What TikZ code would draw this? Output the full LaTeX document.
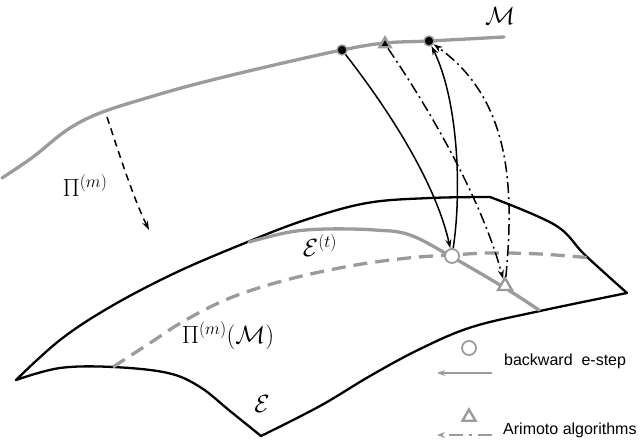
\documentclass[tikz,border=0pt]{standalone}
\usepackage{fontspec}
\setsansfont{Liberation Sans}
\usetikzlibrary{arrows.meta,shapes.geometric}
\definecolor{cgray}{RGB}{155,155,155}
\begin{document}
\begin{tikzpicture}[x=1pt,y=-1pt,
  surf/.style={line width=2.3pt,line join=round,line cap=round},
  gcurve/.style={cgray,line width=3.3pt,line cap=round},
  gdash/.style={cgray,line width=3.3pt,dash pattern=on 14pt off 8pt},
  conn/.style={line width=1.5pt},
  dashdot/.style={line width=1.5pt,dash pattern=on 11pt off 4pt on 2pt off 4pt},
  fhead/.style={-{Stealth[length=9pt,width=6pt]}},
  ohead/.style={-{Stealth[open,length=9pt,width=6pt]}},
  dotm/.style={circle,fill=black,draw=cgray,line width=1.4pt,inner sep=0pt,minimum size=10pt},
  trim/.style={regular polygon,regular polygon sides=3,fill=black,draw=cgray,line width=2.4pt,inner sep=0pt,minimum size=13pt},
  circE/.style={circle,draw=cgray,fill=white,line width=1.8pt,inner sep=0pt,minimum size=14pt},
  triE/.style={regular polygon,regular polygon sides=3,draw=cgray,fill=white,line width=2.4pt,inner sep=0pt,minimum size=16pt},
  mlab/.style={font=\fontsize{23}{27}\selectfont,inner sep=0pt},
  slab/.style={font=\sffamily\fontsize{16}{19}\selectfont,inner sep=0pt,anchor=base west},
]
\useasboundingbox (0,0) rectangle (640,441);

% surface E
\draw[surf] plot[smooth,tension=0.6] coordinates {(16,380) (60,340) (110,307) (175,273) (245,243) (305,220) (367,203) (430,198) (490,197)}
  -- plot[smooth,tension=0.6] coordinates {(490,197) (555,225) (585,255) (627,293)}
  -- plot[smooth,tension=0.6] coordinates {(627,293) (540,311) (472,327) (420,349) (370,376) (320,406) (261,436)}
  -- plot[smooth,tension=0.6] coordinates {(261,436) (230,411) (200,387) (168,373) (113,367) (60,368) (16,380)} -- cycle;

% manifold M
\draw[gcurve] plot[smooth,tension=0.6] coordinates {(2,178) (33,157) (67,130) (100,113) (150,97) (200,83) (270,66) (342,50) (385,43) (429,41) (504,37)};

% Pi^(m)(M) dashed
\draw[gdash] plot[smooth,tension=0.6] coordinates {(113,367) (150,343) (184,321) (230,298) (286,280) (350,266) (408,258) (452,255) (490,253) (540,254) (592,258)};

% E^(t)
\draw[gcurve] plot[smooth,tension=0.6] coordinates {(249,242) (290,232) (327,229) (375,230) (410,235) (452,257) (505,288) (539,310)};

% markers
\node[dotm] (d1) at (342,50) {};
\node[trim] (tm) at (385,44) {};
\node[dotm] (d2) at (429,41) {};
\node[circE] (ce) at (452,256) {};
\node[triE] (te) at (505,286) {};

% Pi^(m) arrow
\coordinate (ps) at (107,117);
\coordinate (pe) at (149,230);
\draw[conn,dash pattern=on 7pt off 5pt,ohead] (ps) .. controls (118,150) and (132,195) .. (pe);

% connectors
\draw[conn,ohead] (d1) .. controls (385,105) and (435,180) .. (ce);
\draw[conn,fhead] (ce) .. controls (462,190) and (458,100) .. (d2);
\draw[dashdot,fhead] (tm) .. controls (430,110) and (482,200) .. (te);
\draw[dashdot,fhead] (te) .. controls (514,190) and (512,100) .. (d2);

% labels
\node[mlab] (lM) at (500,16) {$\mathcal{M}$};
\node[mlab] (lP) at (85,186) {$\Pi^{(m)}$};
\node[mlab] (lEt) at (320,246) {$\mathcal{E}^{(t)}$};
\node[mlab] (lPM) at (228,336) {$\Pi^{(m)}(\mathcal{M})$};
\node[mlab] (lE) at (262,404) {$\mathcal{E}$};

% legend
\node[circle,draw=cgray,line width=1.8pt,inner sep=0pt,minimum size=14pt] (lgc) at (469,348) {};
\node[slab] (lgt1) at (504,365) {backward\ \ e-step};
\coordinate (la1) at (492,373);
\coordinate (la2) at (437,373);
\draw[cgray,line width=1.6pt,-{Stealth[open,length=8pt,width=6pt]}] (la1) -- (la2);
\node[regular polygon,regular polygon sides=3,draw=cgray,line width=2.4pt,inner sep=0pt,minimum size=15pt] (lgtri) at (469,417) {};
\node[slab] (lgt2) at (503,434) {Arimoto algorithms};
\coordinate (lb1) at (492,435);
\coordinate (lb2) at (437,435);
\draw[cgray,line width=2pt,dash pattern=on 14pt off 6pt on 3pt off 6pt,-{Stealth[open,length=8pt,width=6pt]}] (lb1) -- (lb2);
\end{tikzpicture}
\end{document}
